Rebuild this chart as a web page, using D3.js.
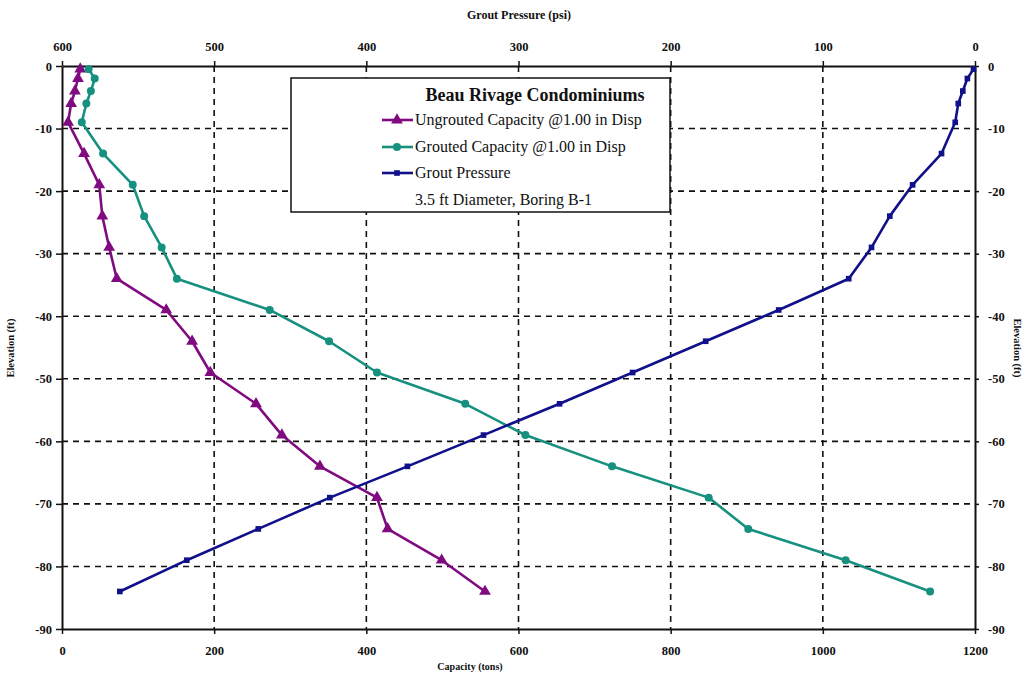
<!DOCTYPE html>
<html>
<head>
<meta charset="utf-8">
<script src="https://cdn.jsdelivr.net/npm/d3@7"></script>
<style>
  html, body { margin: 0; padding: 0; background: #fff; }
  svg { display: block; font-family: "Liberation Serif", "Times New Roman", serif; }
</style>
</head>
<body>
<svg id="chart" width="1028" height="686"></svg>
<script>
// Elevations (ft) of each test depth, shared by all three series
const elevations = [-0.5, -2, -4, -6, -9, -14, -19, -24, -29, -34, -39, -44, -49, -54, -59, -64, -69, -74, -79, -84];
// Capacity (tons) at 1.00 in displacement
const ungroutedCapacity = [24, 21, 17, 12, 8, 29, 49, 53, 62, 72, 137, 171, 195, 255, 289, 339, 414, 428, 499, 556];
const groutedCapacity = [35, 43, 38, 32, 26, 54, 93, 108, 131, 151, 273, 351, 414, 530, 609, 723, 850, 902, 1030, 1141];
// Grout pressure (psi), plotted against the top axis
const groutPressure = [1, 5, 8, 11, 13, 22, 41, 56, 68, 83, 129, 177, 225, 273, 323, 373, 424, 471, 518, 562];

const capacityTicks = [0, 200, 400, 600, 800, 1000, 1200];
const pressureTicks = [600, 500, 400, 300, 200, 100, 0];
const elevationTicks = [0, -10, -20, -30, -40, -50, -60, -70, -80, -90];

const legendTitle = "Beau Rivage Condominiums";
const seriesNames = ["Ungrouted Capacity @1.00 in Disp", "Grouted Capacity @1.00 in Disp", "Grout Pressure"];
const legendNote = "3.5 ft Diameter, Boring B-1";

const svg = d3.select("#chart");
const L = 62, R = 975, T = 66, B = 629;

const x = d3.scaleLinear().domain([0, 1200]).range([L, R]);
const xTop = d3.scaleLinear().domain([600, 0]).range([L, R]);
const y = d3.scaleLinear().domain([-90, 0]).range([B, T]);
const plain = d => String(d);

// dashed grid
const grid = svg.append("g").attr("stroke", "#111").attr("stroke-width", 1.6).attr("stroke-dasharray", "6,5");
grid.selectAll("line.h").data(elevationTicks.filter(d => d > -90 && d < 0)).join("line")
  .attr("x1", L).attr("x2", R).attr("y1", d => y(d)).attr("y2", d => y(d));
grid.selectAll("line.v").data(capacityTicks.filter(d => d > 0 && d < 1200)).join("line")
  .attr("y1", T).attr("y2", B).attr("x1", d => x(d)).attr("x2", d => x(d));

// axes
const tickFont = g => g.selectAll("text").attr("font-family", "Liberation Serif, serif").attr("font-weight", "bold").attr("font-size", 12.5).attr("fill", "#111");
const axisStyle = g => { g.select(".domain").attr("stroke", "#111").attr("stroke-width", 2); g.selectAll(".tick line").attr("stroke", "#111").attr("stroke-width", 1.5); tickFont(g); };

svg.append("g").attr("transform", `translate(0,${B})`)
  .call(d3.axisBottom(x).tickValues(capacityTicks).tickFormat(plain).tickSize(5).tickPadding(12).tickSizeOuter(0))
  .call(axisStyle);
svg.append("g").attr("transform", `translate(0,${T})`)
  .call(d3.axisTop(xTop).tickValues(pressureTicks).tickFormat(plain).tickSize(5).tickPadding(10).tickSizeOuter(0))
  .call(axisStyle);
svg.append("g").attr("transform", `translate(${L},0)`)
  .call(d3.axisLeft(y).tickValues(elevationTicks).tickFormat(plain).tickSize(6).tickPadding(4).tickSizeOuter(0))
  .call(axisStyle);
svg.append("g").attr("transform", `translate(${R},0)`)
  .call(d3.axisRight(y).tickValues(elevationTicks).tickFormat(plain).tickSize(4).tickPadding(9).tickSizeOuter(0))
  .call(axisStyle);

// axis titles
const title = (t, tx, ty, rot, fs) => svg.append("text").text(t)
  .attr("transform", `translate(${tx},${ty}) rotate(${rot})`)
  .attr("text-anchor", "middle").attr("font-size", fs).attr("font-weight", "bold").attr("fill", "#111");
title("Grout Pressure (psi)", 519, 19, 0, 12);
title("Capacity (tons)", 470, 670, 0, 10);
title("Elevation (ft)", 14, 348, -90, 10.5);
title("Elevation (ft)", 1014, 348, 90, 10.5);

// series
const series = [
  { name: seriesNames[0], vals: ungroutedCapacity, sx: x, color: "#800a80", sym: d3.symbolTriangle, size: 60 },
  { name: seriesNames[1], vals: groutedCapacity, sx: x, color: "#16907f", sym: d3.symbolCircle, size: 50 },
  { name: seriesNames[2], vals: groutPressure, sx: xTop, color: "#10108a", sym: d3.symbolSquare, size: 32 }
];

series.forEach(s => {
  const pts = s.vals.map((v, i) => [s.sx(v), y(elevations[i])]);
  svg.append("path").attr("d", d3.line()(pts))
    .attr("fill", "none").attr("stroke", s.color).attr("stroke-width", 2.6).attr("stroke-linejoin", "round");
  svg.append("g").selectAll("path").data(pts).join("path")
    .attr("transform", d => `translate(${d[0]},${d[1]})`)
    .attr("d", d3.symbol().type(s.sym).size(s.size))
    .attr("fill", s.color);
});

// legend
const lg = svg.append("g");
lg.append("rect").attr("x", 291).attr("y", 78).attr("width", 379).attr("height", 134)
  .attr("fill", "#fff").attr("stroke", "#111").attr("stroke-width", 1.5);
lg.append("text").text(legendTitle).attr("x", 535).attr("y", 101).attr("text-anchor", "middle")
  .attr("font-size", 18).attr("font-weight", "bold").attr("fill", "#111");
const rowY = [125, 152, 178];
series.forEach((s, i) => {
  lg.append("line").attr("x1", 382).attr("x2", 413).attr("y1", rowY[i] - 5).attr("y2", rowY[i] - 5)
    .attr("stroke", s.color).attr("stroke-width", 2.6);
  lg.append("path").attr("transform", `translate(397,${rowY[i] - 5})`)
    .attr("d", d3.symbol().type(s.sym).size(s.size)).attr("fill", s.color);
  lg.append("text").text(s.name).attr("x", 415).attr("y", rowY[i]).attr("font-size", 16).attr("fill", "#111");
});
lg.append("text").text(legendNote).attr("x", 415).attr("y", 205).attr("font-size", 16).attr("fill", "#111");
</script>
</body>
</html>
